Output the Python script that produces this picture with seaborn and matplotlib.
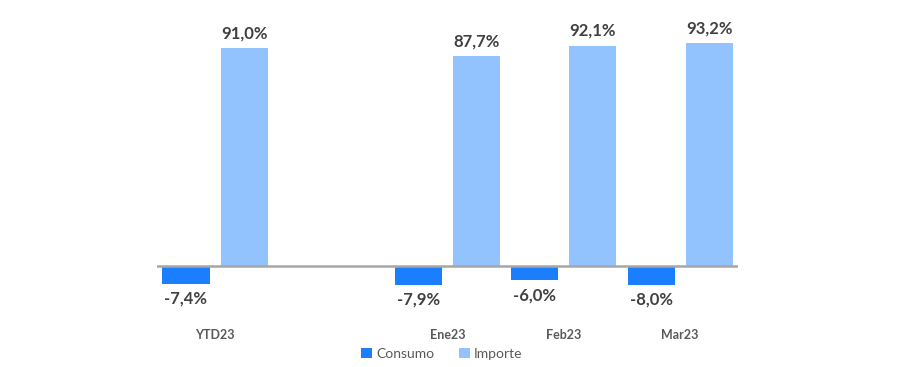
import pandas as pd
import matplotlib
matplotlib.use("Agg")
import matplotlib.pyplot as plt
import seaborn as sns

# Datos del gráfico
categorias = ["YTD23", "Ene23", "Feb23", "Mar23"]
orden = ["YTD23", " ", "Ene23", "Feb23", "Mar23"]
consumo = [-7.4, -7.9, -6.0, -8.0]
importe = [91.0, 87.7, 92.1, 93.2]
series = ["Consumo", "Importe"]
colores = ["#1A7EFF", "#93C3FF"]

df = pd.DataFrame({
    "mes": categorias * 2,
    "serie": [series[0]] * len(categorias) + [series[1]] * len(categorias),
    "valor": consumo + importe,
})

sns.set_style("white")
plt.rcParams["font.family"] = ["Lato", "DejaVu Sans"]

fig = plt.figure(figsize=(9.07, 3.67), dpi=100)
ax = fig.add_axes([0.173, 0.1335, 0.641, 0.8395])

sns.barplot(data=df, x="mes", y="valor", hue="serie", order=orden,
            hue_order=series, palette=colores, width=1.0, gap=0.19,
            saturation=1, linewidth=0, ax=ax)

ax.set_ylim(-21.8, 107.1)
ax.axhline(0, color="#A6A6A6", lw=1.8, zorder=3)
for s in ax.spines.values():
    s.set_visible(False)
ax.set_yticks([])
ax.set_xlabel("")
ax.set_ylabel("")
ax.tick_params(axis="x", length=0, pad=8, labelsize=9, labelcolor="#595959")
for t in ax.get_xticklabels():
    t.set_fontweight("bold")

def fmt(v):
    return f"{v:.1f}%".replace(".", ",")

for c in ax.containers:
    ax.bar_label(c, labels=[fmt(v) for v in c.datavalues], padding=5,
                 fontsize=12, fontweight="bold", color="#404040")

ax.legend(loc="center", bbox_to_anchor=(0.49, -0.117), ncol=2, frameon=False,
          handlelength=0.75, handleheight=0.75, handletextpad=0.3,
          columnspacing=1.8, fontsize=10, labelcolor="#595959")

fig.savefig("out.png", dpi=100)
